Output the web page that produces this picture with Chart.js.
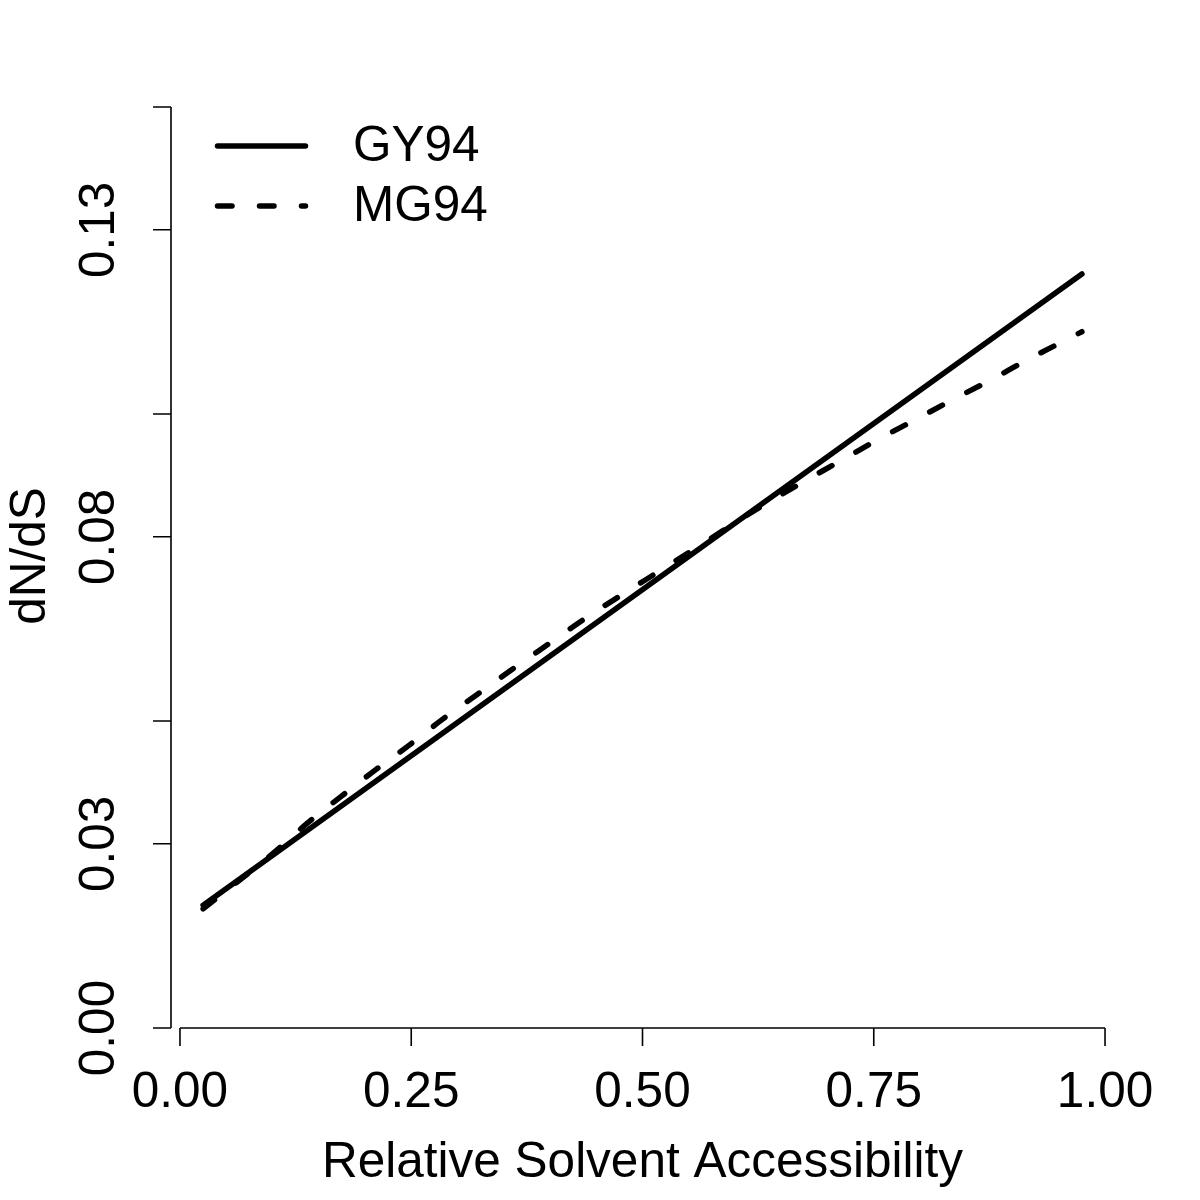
<!DOCTYPE html>
<html>
<head>
<meta charset="utf-8">
<title>dN/dS vs Relative Solvent Accessibility</title>
<script src="https://cdn.jsdelivr.net/npm/chart.js@4/dist/chart.umd.min.js"></script>
<style>
    html, body { margin: 0; padding: 0; background: #ffffff; }
    #wrap { width: 1200px; height: 1200px; }
</style>
</head>
<body>
<div id="wrap"><canvas id="rsaChart" width="1200" height="1200"></canvas></div>
<script>
// Values
const gyX = [0.025, 0.975];
const gyY = [0.0200, 0.1228];

const mgX = [0.025, 0.105, 0.138, 0.175, 0.211, 0.249, 0.284, 0.322, 0.360, 0.398, 0.438, 0.476, 0.515,
             0.555, 0.592, 0.631, 0.672, 0.712, 0.754, 0.794, 0.835, 0.876, 0.917, 0.957, 0.975];
const mgY = [0.0194, 0.0290, 0.0334, 0.0378, 0.0420, 0.0462, 0.0503, 0.0544, 0.0585, 0.0625, 0.0667, 0.0704, 0.0741,
             0.0779, 0.0815, 0.0852, 0.0888, 0.0922, 0.0958, 0.0990, 0.1023, 0.1055, 0.1089, 0.1120, 0.1134];

// Axis ticks (R hides the labels that would overlap)
const xTicks = [0, 0.25, 0.5, 0.75, 1];
const xTickLabels = ['0.00', '0.25', '0.50', '0.75', '1.00'];
const yTicks = [0, 0.03, 0.05, 0.08, 0.10, 0.13, 0.15];
const yTickLabels = ['0.00', '0.03', '', '0.08', '', '0.13', ''];

const xTitle = 'Relative Solvent Accessibility';
const yTitle = 'dN/dS';

const FONT = '49.5px "Liberation Sans", Arial, Helvetica, sans-serif';

// Build point lists for Chart.js
function toPoints(xs, ys) {
    return xs.map((v, i) => ({ x: v, y: ys[i] }));
}

// R-style axes + legend, drawn with the chart's own scales
const rAxes = {
    id: 'rAxes',
    afterDraw(chart) {
        const { ctx, chartArea, scales: { x, y } } = chart;
        const axisY = chartArea.bottom;  // x axis line
        const axisX = chartArea.left;    // y axis line
        const tickLen = 18;

        ctx.save();
        ctx.strokeStyle = '#000';
        ctx.fillStyle = '#000';
        ctx.lineWidth = 1.6;
        ctx.lineCap = 'butt';
        ctx.setLineDash([]);

        // x axis
        ctx.beginPath();
        ctx.moveTo(x.getPixelForValue(xTicks[0]), axisY);
        ctx.lineTo(x.getPixelForValue(xTicks[xTicks.length - 1]), axisY);
        xTicks.forEach(v => {
            const px = x.getPixelForValue(v);
            ctx.moveTo(px, axisY);
            ctx.lineTo(px, axisY + tickLen);
        });
        // y axis
        ctx.moveTo(axisX, y.getPixelForValue(yTicks[0]));
        ctx.lineTo(axisX, y.getPixelForValue(yTicks[yTicks.length - 1]));
        yTicks.forEach(v => {
            const py = y.getPixelForValue(v);
            ctx.moveTo(axisX, py);
            ctx.lineTo(axisX - tickLen, py);
        });
        ctx.stroke();

        ctx.font = FONT;
        ctx.textBaseline = 'alphabetic';

        // x tick labels and title
        ctx.textAlign = 'center';
        xTicks.forEach((v, i) => {
            ctx.fillText(xTickLabels[i], x.getPixelForValue(v), axisY + 79);
        });
        ctx.fillText(xTitle, x.getPixelForValue(0.5), axisY + 149);

        // y tick labels (rotated, reading bottom to top)
        yTicks.forEach((v, i) => {
            if (!yTickLabels[i]) return;
            ctx.save();
            ctx.translate(axisX - 57, y.getPixelForValue(v));
            ctx.rotate(-Math.PI / 2);
            ctx.fillText(yTickLabels[i], 0, 0);
            ctx.restore();
        });
        ctx.save();
        ctx.translate(45, 556);
        ctx.rotate(-Math.PI / 2);
        ctx.fillText(yTitle, 0, 0);
        ctx.restore();

        // legend, top left inside the plot
        const lx0 = axisX + 46.5, lx1 = axisX + 134.5;
        chart.data.datasets.forEach((ds, i) => {
            const ly = chartArea.top + 39 + i * 60;
            ctx.beginPath();
            ctx.lineWidth = ds.borderWidth;
            ctx.lineCap = 'round';
            ctx.setLineDash(ds.borderDash || []);
            ctx.moveTo(lx0, ly);
            ctx.lineTo(lx1, ly);
            ctx.stroke();
            ctx.setLineDash([]);
            ctx.textAlign = 'left';
            ctx.textBaseline = 'middle';
            ctx.fillText(ds.label, axisX + 182, ly + 1);
        });
        ctx.restore();
    }
};

const ctx = document.getElementById('rsaChart').getContext('2d');
const chart = new Chart(ctx, {
    type: 'line',
    data: {
        datasets: [
            {
                label: 'GY94',
                data: toPoints(gyX, gyY),
                borderColor: '#000',
                borderWidth: 5.5,
                borderCapStyle: 'round',
                borderJoinStyle: 'round',
                pointRadius: 0,
                fill: false
            },
            {
                label: 'MG94',
                data: toPoints(mgX, mgY),
                borderColor: '#000',
                borderWidth: 5.5,
                borderDash: [14.5, 27.5],
                borderCapStyle: 'round',
                borderJoinStyle: 'round',
                cubicInterpolationMode: 'monotone',
                pointRadius: 0,
                fill: false
            }
        ]
    },
    options: {
        responsive: false,
        animation: false,
        devicePixelRatio: 1,
        layout: { padding: { left: 171, right: 86, top: 107, bottom: 172 } },
        scales: {
            x: { type: 'linear', min: -0.0097, max: 1.0097, display: false },
            y: { type: 'linear', min: 0, max: 0.15, display: false }
        },
        plugins: {
            legend: { display: false },
            tooltip: { enabled: false }
        }
    },
    plugins: [rAxes]
});
</script>
</body>
</html>
